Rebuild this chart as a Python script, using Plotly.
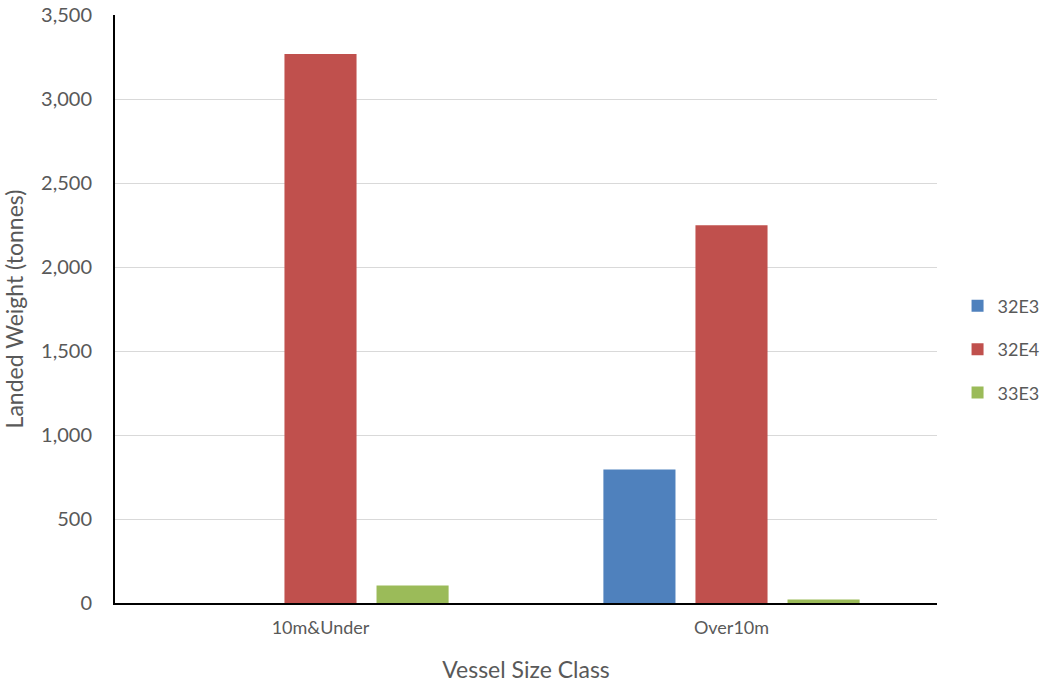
import plotly.graph_objects as go

categories = ["10m&Under", "Over10m"]
series_names = ["32E3", "32E4", "33E3"]
values_32E3 = [0, 794]
values_32E4 = [3268, 2248]
values_33E3 = [104, 21]
colors = ["#4F81BD", "#C0504D", "#9BBB59"]
y_ticks = [0, 500, 1000, 1500, 2000, 2500, 3000, 3500]

fig = go.Figure()
for name, vals, col in zip(series_names, [values_32E3, values_32E4, values_33E3], colors):
    fig.add_trace(go.Bar(name=name, x=categories, y=vals, legendgroup=name,
                         marker=dict(color=col, line=dict(width=0))))

font_family = "Lato, 'Open Sans', sans-serif"
fig.update_layout(
    barmode="group",
    bargap=0.328,
    bargroupgap=0.217,
    width=1045, height=683,
    margin=dict(l=115, r=108, t=15, b=80, autoexpand=False),
    paper_bgcolor="white", plot_bgcolor="white",
    font=dict(family=font_family, size=18, color="#595959"),
    legend=dict(x=1.025, y=0.431, xanchor="left", yanchor="middle",
                font=dict(size=18, color="#595959"), tracegroupgap=17,
                itemwidth=30, borderwidth=0),
    xaxis=dict(showline=True, linecolor="black", linewidth=2, ticks="", automargin=False,
               title=dict(text="Vessel Size Class", font=dict(size=23, color="#595959"), standoff=40),
               tickfont=dict(size=18), ticklabelstandoff=7),
    yaxis=dict(range=[0, 3500], tickvals=y_ticks, tickformat=",", showline=True, linecolor="black",
               linewidth=2, gridcolor="#D9D9D9", gridwidth=1, ticks="", zeroline=False, automargin=False,
               title=dict(text="Landed Weight (tonnes)", font=dict(size=23, color="#595959"), standoff=77),
               tickfont=dict(size=20), ticklabelstandoff=17, ticklabeloverflow="allow"),
)
fig.write_html("out.html", config={"displayModeBar": False},
               post_script="document.body.style.margin='0';")
